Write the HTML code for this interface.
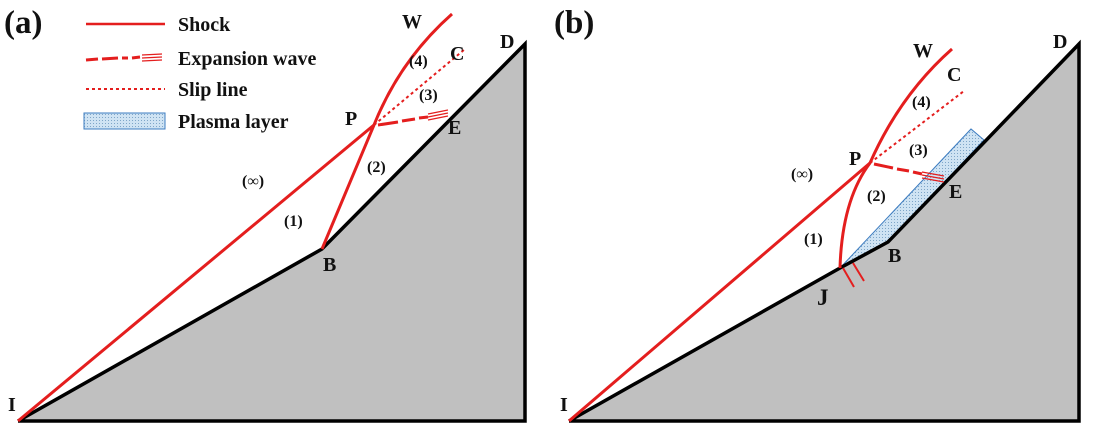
<!DOCTYPE html>
<html><head><meta charset="utf-8"><style>
html,body{margin:0;padding:0;background:#fff;}
svg{display:block;}
text{font-family:"Liberation Serif",serif;font-weight:bold;fill:#111;}
</style></head><body>
<svg width="1102" height="425" viewBox="0 0 1102 425" xmlns="http://www.w3.org/2000/svg">
<defs>
<pattern id="dots" width="3" height="3" patternUnits="userSpaceOnUse">
<rect width="3" height="3" fill="#cfe3f3"/><rect width="1" height="1" fill="#7fa6c8"/>
</pattern>
</defs>
<!-- Panel a -->
<polygon points="18,421 322,249 525,44 525,421" fill="#c0c0c0"/>
<polyline points="18,421 322,249 525,44 525,421 18,421" fill="none" stroke="#000" stroke-width="3.5" stroke-linejoin="miter"/>
<g stroke="#e41e1e" stroke-width="3" fill="none">
<line x1="18" y1="421" x2="374" y2="125"/>
<path d="M322,249 L374,125 Q400,60 452,14"/>
<line x1="374" y1="125" x2="465" y2="49" stroke-width="2" stroke-dasharray="3,3"/>
<path d="M378,125 L398,122 M402,121 L415,119 M419,118 L428,117" stroke-width="3"/>
<path d="M428,114 L448,110 M428,117 L448,113 M428,120 L448,116" stroke-width="1.2"/>
</g>
<!-- legend -->
<g stroke="#e41e1e" fill="none">
<line x1="86" y1="24" x2="165" y2="24" stroke-width="2.5"/>
<path d="M86,60 L98,59 M102,59 L118,58 M122,58 L128,58 M132,58 L140,57" stroke-width="3"/>
<path d="M142,55 L162,54 M142,58 L162,57 M142,61 L162,60" stroke-width="1.2"/>
<line x1="86" y1="89" x2="165" y2="89" stroke-width="2" stroke-dasharray="3,3"/>
</g>
<rect x="84" y="113" width="81" height="16" fill="url(#dots)" stroke="#3d7cc0" stroke-width="1"/>
<g font-size="20">
<text x="178" y="31">Shock</text>
<text x="178" y="65">Expansion wave</text>
<text x="178" y="96">Slip line</text>
<text x="178" y="128">Plasma layer</text>
</g>
<text x="4" y="33" font-size="33">(a)</text>
<g font-size="20">
<text x="402" y="28">W</text><text x="450" y="60">C</text><text x="500" y="48">D</text>
<text x="448" y="134">E</text><text x="345" y="125">P</text><text x="323" y="271">B</text><text x="8" y="411">I</text>
</g>
<g font-size="16">
<text x="242" y="186">(∞)</text><text x="284" y="226">(1)</text><text x="367" y="172">(2)</text>
<text x="419" y="100">(3)</text><text x="409" y="66">(4)</text>
</g>
<!-- Panel b -->
<polygon points="569,421 840,268 888,242 1079,44 1079,421" fill="#c0c0c0"/>
<polygon points="840,268 971,129 984,140 888,242" fill="url(#dots)" stroke="#3d7cc0" stroke-width="1"/>
<polyline points="569,421 840,268 888,242 1079,44 1079,421 569,421" fill="none" stroke="#000" stroke-width="3.5"/>
<g stroke="#e41e1e" stroke-width="3" fill="none">
<line x1="569" y1="421" x2="870" y2="163"/>
<path d="M840,268 Q842,200 870,163 Q900,95 952,49"/>
<line x1="870" y1="163" x2="964" y2="91" stroke-width="2" stroke-dasharray="3,3"/>
<path d="M874,164 L893,168 M897,169 L909,171 M913,172 L922,174" stroke-width="3"/>
<path d="M922,172 L944,176 M922,175 L944,179 M922,178 L944,182" stroke-width="1.2"/>
<line x1="843" y1="268" x2="854" y2="287" stroke-width="2"/>
<line x1="853" y1="263" x2="864" y2="281" stroke-width="2"/>
</g>
<text x="554" y="33" font-size="33">(b)</text>
<g font-size="20">
<text x="913" y="57">W</text><text x="947" y="81">C</text><text x="1053" y="48">D</text>
<text x="949" y="198">E</text><text x="849" y="165">P</text><text x="888" y="262">B</text><text x="560" y="411">I</text>
<text x="817" y="305" font-size="23">J</text>
</g>
<g font-size="16">
<text x="791" y="179">(∞)</text><text x="804" y="244">(1)</text><text x="867" y="201">(2)</text>
<text x="909" y="155">(3)</text><text x="912" y="107">(4)</text>
</g>
</svg>
</body></html>
